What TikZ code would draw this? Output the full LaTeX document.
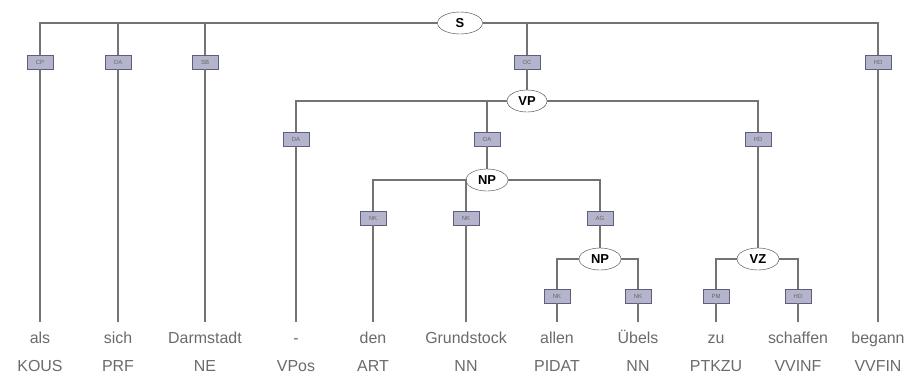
\documentclass[tikz,border=0pt]{standalone}
\usepackage{fontspec}
\setmainfont{Liberation Sans}
\usetikzlibrary{positioning,shapes.geometric}

\definecolor{lblfill}{HTML}{B4B4CC}
\definecolor{lbldraw}{HTML}{5E5E7C}
\definecolor{wordgray}{HTML}{6A6A6A}

\begin{document}
\begin{tikzpicture}[x=1bp,y=-1bp,
    cat/.style={draw=black!75, ellipse, fill=white,
      minimum width=42bp, minimum height=22bp, inner sep=0pt,
      font=\bfseries\fontsize{13}{13}\selectfont},
    edgelab/.style={draw=lbldraw, fill=lblfill,
      minimum width=26bp, minimum height=14bp, inner sep=0pt,
      font=\fontsize{6}{6}\selectfont, text=black!60},
    word/.style={text=wordgray, font=\fontsize{16}{16}\selectfont,
      anchor=north, inner xsep=0pt, inner ysep=10bp,
      text height=11bp, text depth=3bp},
    tag/.style={text=wordgray, font=\fontsize{16}{16}\selectfont, anchor=base},
    branch/.style={draw=black!55, line width=1.1bp}]
  \useasboundingbox (0,0) rectangle (910,376);

  % categories
  \node[cat, minimum width=45bp] (S) at (460,23) {S};
  \node[cat, minimum width=40bp] (VP) at (527,101) {VP};
  \node[cat] (NP) at (487,180) {NP};
  \node[cat] (NPg) at (600,259) {NP};
  \node[cat] (VZ) at (758,259) {VZ};

  % edge labels
  \node[edgelab] (lCP) at (40,62) {CP};
  \node[edgelab] (lOAs) at (118,62) {OA};
  \node[edgelab] (lSB) at (205,62) {SB};
  \node[edgelab] (lOC) at (527,62) {OC};
  \node[edgelab] (lHDs) at (878,62) {HD};
  \node[edgelab] (lDA) at (296,139) {DA};
  \node[edgelab] (lOA) at (487,139) {OA};
  \node[edgelab] (lHDvp) at (758,139) {HD};
  \node[edgelab] (lNK1) at (373,218) {NK};
  \node[edgelab] (lNK2) at (466,218) {NK};
  \node[edgelab] (lAG) at (600,218) {AG};
  \node[edgelab] (lNK3) at (557,296) {NK};
  \node[edgelab] (lNK4) at (638,296) {NK};
  \node[edgelab] (lPM) at (716,296) {PM};
  \node[edgelab] (lHDvz) at (798,296) {HD};

  % words and tags
  \node[word] (als) at (40,322) {als};
  \node[word] (sich) at (118,322) {sich};
  \node[word] (darm) at (205,322) {Darmstadt};
  \node[word] (vpos) at (296,322) {-};
  \node[word] (den) at (373,322) {den};
  \node[word] (grund) at (466,322) {Grundstock};
  \node[word] (allen) at (557,322) {allen};
  \node[word] (uebels) at (638,322) {Übels};
  \node[word] (zu) at (716,322) {zu};
  \node[word] (schaff) at (798,322) {schaffen};
  \node[word] (begann) at (878,322) {begann};

  \node[tag] (als-t) at (40,371) {KOUS};
  \node[tag] (sich-t) at (118,371) {PRF};
  \node[tag] (darm-t) at (205,371) {NE};
  \node[tag] (vpos-t) at (296,371) {VPos};
  \node[tag] (den-t) at (373,371) {ART};
  \node[tag] (grund-t) at (466,371) {NN};
  \node[tag] (allen-t) at (557,371) {PIDAT};
  \node[tag] (uebels-t) at (638,371) {NN};
  \node[tag] (zu-t) at (716,371) {PTKZU};
  \node[tag] (schaff-t) at (798,371) {VVINF};
  \node[tag] (begann-t) at (878,371) {VVFIN};

  % branches
  \path[branch]
    (S.west) -| (lCP) (S.west) -| (lOAs) (S.west) -| (lSB)
    (S.east) -| (lOC) (S.east) -| (lHDs)
    (lCP) -- (als) (lOAs) -- (sich) (lSB) -- (darm) (lHDs) -- (begann)
    (lOC) -- (VP)
    (VP.west) -| (lDA) (VP.west) -| (lOA) (VP.east) -| (lHDvp)
    (lDA) -- (vpos) (lOA) -- (NP) (lHDvp) -- (VZ)
    (NP.west) -| (lNK1) (NP.west) -| (lNK2) (NP.east) -| (lAG)
    (lNK1) -- (den) (lNK2) -- (grund) (lAG) -- (NPg)
    (NPg.west) -| (lNK3) (NPg.east) -| (lNK4)
    (lNK3) -- (allen) (lNK4) -- (uebels)
    (VZ.west) -| (lPM) (VZ.east) -| (lHDvz)
    (lPM) -- (zu) (lHDvz) -- (schaff);
\end{tikzpicture}
\end{document}
